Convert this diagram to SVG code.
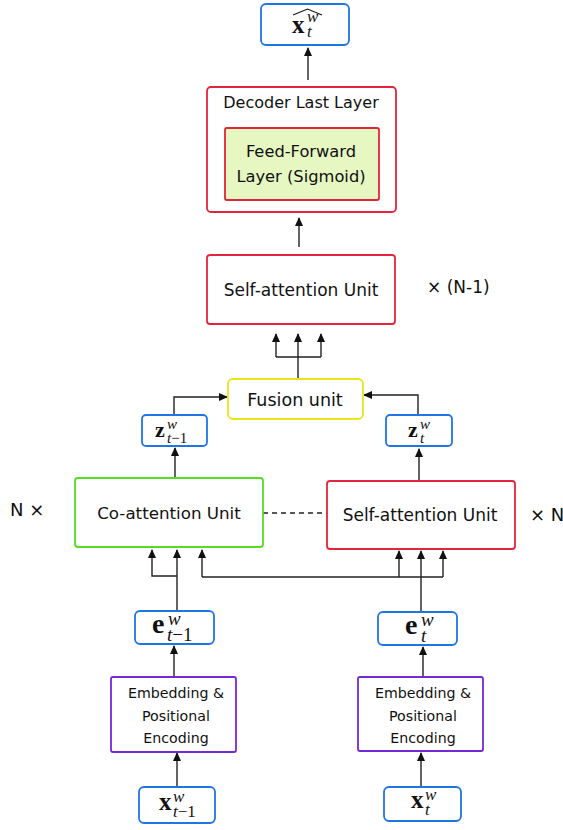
<svg xmlns="http://www.w3.org/2000/svg" width="563" height="830" viewBox="0 0 563 830">
<defs>
<marker id="ah" markerUnits="userSpaceOnUse" markerWidth="9" markerHeight="8" refX="8" refY="4" orient="auto">
<path d="M0,0 L9,4 L0,8 z" fill="#111"/>
</marker>
<style>
.box{fill:#fff;stroke-width:1.8}
.blue{stroke:#1f74e6}
.red{stroke:#e3243a}
.green{stroke:#55dd22}
.yellow{stroke:#e6e619}
.purple{stroke:#7528d8}
.lbl{font-family:"DejaVu Sans",sans-serif;fill:#111;text-anchor:middle}
.side{font-family:"DejaVu Sans",sans-serif;fill:#111}
.m{font-family:"Liberation Serif",serif;fill:#111}
.mb{font-weight:bold}
.mi{font-style:italic}
.c{fill:none;stroke:#222;stroke-width:1.4}
.ca{fill:none;stroke:#222;stroke-width:1.4;marker-end:url(#ah)}
</style>
</defs>

<g id="connectors">
<path class="ca" d="M308,80 V48"/>
<path class="ca" d="M299,247 V218"/>
<path class="c" d="M298,379 V357 M276,357 H321"/>
<path class="ca" d="M276,357 V334"/>
<path class="ca" d="M298,357 V334"/>
<path class="ca" d="M321,357 V334"/>
<path class="ca" d="M174,415 V397 H227"/>
<path class="ca" d="M418,415 V395 H364"/>
<path class="ca" d="M175,478 V448"/>
<path class="ca" d="M419,481 V449"/>
<path class="ca" d="M177,611 V550"/>
<path class="ca" d="M177,576 H152 V550"/>
<path class="ca" d="M421,612 V551"/>
<path class="c" d="M202,577 H443"/>
<path class="ca" d="M202,577 V550"/>
<path class="ca" d="M399,577 V551"/>
<path class="ca" d="M443,577 V551"/>
<path class="ca" d="M174,677 V646"/>
<path class="ca" d="M423,677 V647"/>
<path class="ca" d="M177,787 V753"/>
<path class="ca" d="M421,787 V753"/>
<path class="c" d="M263,513 H327" stroke-dasharray="5,4"/>
</g>

<g id="out_xhat">
<rect class="box blue" x="261" y="4" width="88" height="41" rx="5"/>
<text class="m"><tspan class="mb" x="292" y="33" font-size="25">x</tspan><tspan class="mi" x="307" y="22" font-size="17">w</tspan><tspan class="mi" x="307" y="37" font-size="17">t</tspan></text>
<path d="M293,15 L307.5,9 L322,15" fill="none" stroke="#111" stroke-width="1.1"/>
</g>

<g id="decoder_last">
<rect class="box red" x="207" y="87" width="189" height="125" rx="4"/>
<text class="lbl" x="301" y="108" font-size="16">Decoder Last Layer</text>
</g>

<g id="ffn">
<rect class="red" x="225" y="128" width="154" height="72" fill="#e6f7c2" stroke-width="1.8" rx="2"/>
<text class="lbl" x="301" y="157" font-size="16.3">Feed-Forward</text>
<text class="lbl" x="301" y="182" font-size="16.3">Layer (Sigmoid)</text>
</g>

<g id="self_attn_top">
<rect class="box red" x="207" y="255" width="188" height="69" rx="3"/>
<text class="lbl" x="301" y="296" font-size="17">Self-attention Unit</text>
</g>
<text class="side" x="427" y="293" font-size="17">× (N-1)</text>

<g id="fusion">
<rect class="box yellow" x="228" y="379" width="135" height="40" rx="5" stroke-width="2.2"/>
<text class="lbl" x="295" y="406" font-size="17.5">Fusion unit</text>
</g>

<g id="z_prev">
<rect class="box blue" x="142" y="415" width="65" height="31" rx="4"/>
<text class="m"><tspan class="mb" x="155" y="437" font-size="22">z</tspan><tspan class="mi" x="167" y="429" font-size="15">w</tspan><tspan x="167" y="443" font-size="15"><tspan font-style="italic">t</tspan>−1</tspan></text>
</g>

<g id="z_t">
<rect class="box blue" x="386" y="415" width="66" height="31" rx="4"/>
<text class="m"><tspan class="mb" x="408" y="437" font-size="22">z</tspan><tspan class="mi" x="420" y="429" font-size="15">w</tspan><tspan class="mi" x="420" y="443" font-size="15">t</tspan></text>
</g>

<text class="side" x="10" y="516" font-size="18">N ×</text>
<text class="side" x="530" y="521" font-size="18">× N</text>

<g id="co_attn">
<rect class="box green" x="75" y="478" width="188" height="69" rx="3"/>
<text class="lbl" x="169" y="519" font-size="16.7">Co-attention Unit</text>
</g>

<g id="self_attn">
<rect class="box red" x="327" y="481" width="188" height="68" rx="3"/>
<text class="lbl" x="420" y="521" font-size="17">Self-attention Unit</text>
</g>

<g id="e_prev">
<rect class="box blue" x="135" y="611" width="79" height="33" rx="5"/>
<text class="m"><tspan class="mb" x="152" y="633" font-size="28">e</tspan><tspan class="mi" x="168" y="625" font-size="19">w</tspan><tspan x="167" y="641" font-size="19"><tspan font-style="italic">t</tspan>−1</tspan></text>
</g>

<g id="e_t">
<rect class="box blue" x="378" y="612" width="79" height="33" rx="5"/>
<text class="m"><tspan class="mb" x="405" y="634" font-size="28">e</tspan><tspan class="mi" x="421" y="626" font-size="19">w</tspan><tspan class="mi" x="421" y="642" font-size="19">t</tspan></text>
</g>

<g id="emb_prev">
<rect class="box purple" x="111" y="677" width="125" height="75" rx="2"/>
<text class="lbl" x="176" y="698" font-size="14.2">Embedding &amp;</text>
<text class="lbl" x="176" y="721" font-size="14.2">Positional</text>
<text class="lbl" x="176" y="743" font-size="14.2">Encoding</text>
</g>

<g id="emb_t">
<rect class="box purple" x="358" y="677" width="125" height="74" rx="2"/>
<text class="lbl" x="423" y="698" font-size="14.2">Embedding &amp;</text>
<text class="lbl" x="423" y="721" font-size="14.2">Positional</text>
<text class="lbl" x="423" y="743" font-size="14.2">Encoding</text>
</g>

<g id="x_prev">
<rect class="box blue" x="139" y="787" width="76" height="36" rx="5"/>
<text class="m"><tspan class="mb" x="159" y="810" font-size="25">x</tspan><tspan class="mi" x="173" y="802" font-size="17">w</tspan><tspan x="173" y="817" font-size="17"><tspan font-style="italic">t</tspan>−1</tspan></text>
</g>

<g id="x_t">
<rect class="box blue" x="384" y="787" width="77" height="34" rx="5"/>
<text class="m"><tspan class="mb" x="411" y="808" font-size="25">x</tspan><tspan class="mi" x="425" y="800" font-size="17">w</tspan><tspan class="mi" x="425" y="815" font-size="17">t</tspan></text>
</g>
</svg>
